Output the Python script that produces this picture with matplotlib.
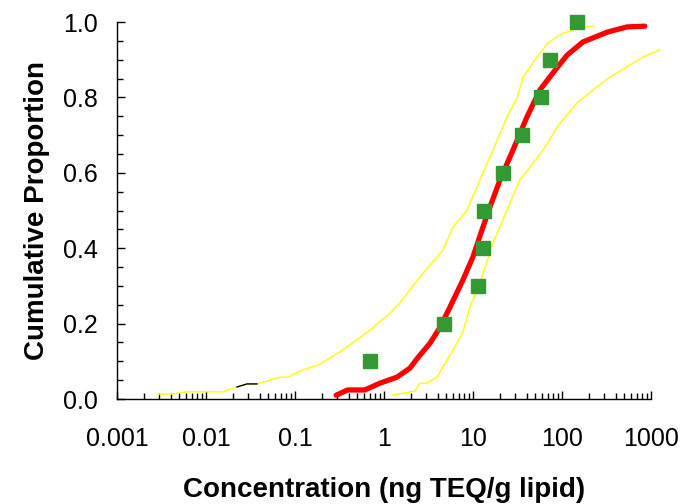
import numpy as np
import matplotlib
matplotlib.use('Agg')
import matplotlib.pyplot as plt
import matplotlib.ticker as ticker

plt.rcParams['font.family'] = ['Liberation Sans', 'DejaVu Sans']

# observed data (green squares)
obs_conc = [0.7, 4.7, 11.4, 12.9, 13.2, 21.7, 35.5, 58.1, 73.3, 147]
obs_prop = [0.1, 0.2, 0.3, 0.4, 0.5, 0.6, 0.7, 0.8, 0.9, 1.0]

# fitted distribution (red)
fit_conc = [0.29, 0.39, 0.61, 0.90, 1.40, 1.96, 2.41, 3.29, 4.26, 5.52, 7.72,
            10.0, 12.6, 15.5, 20.1, 28.1, 40.4, 56.6, 79.2, 114, 172, 321,
            537, 853]
fit_prop = [0.010, 0.024, 0.024, 0.042, 0.058, 0.082, 0.110, 0.148, 0.190,
            0.244, 0.316, 0.377, 0.448, 0.509, 0.581, 0.660, 0.748, 0.820,
            0.865, 0.912, 0.947, 0.973, 0.987, 0.989]

# upper confidence bound (left yellow)
upper_conc = [0.0029, 0.00415, 0.0061, 0.0155, 0.0223, 0.0289, 0.0374,
              0.0678, 0.083, 0.114, 0.191, 0.32, 0.384, 0.70, 1.17, 1.51,
              2.54, 4.6, 5.96, 8.57, 11.1, 14.4, 16.8, 24.1, 31.2, 36.5,
              52.4, 69.6, 95, 147, 223]
upper_prop = [0.013, 0.013, 0.019, 0.019, 0.032, 0.040, 0.040, 0.058, 0.058,
              0.074, 0.093, 0.125, 0.138, 0.183, 0.228, 0.255, 0.324, 0.395,
              0.456, 0.501, 0.562, 0.626, 0.660, 0.748, 0.798, 0.854, 0.907,
              0.944, 0.966, 0.984, 0.989]

# lower confidence bound (right yellow)
lower_conc = [1.26, 2.23, 2.54, 3.04, 3.94, 5.96, 7.72, 9.25, 12.0, 16.8,
              24.1, 33.7, 61.2, 95, 147, 223, 346, 537, 813, 1259]
lower_prop = [0.011, 0.021, 0.042, 0.042, 0.058, 0.130, 0.178, 0.244, 0.308,
              0.414, 0.501, 0.581, 0.660, 0.732, 0.785, 0.820, 0.854, 0.881,
              0.907, 0.926]

x_ticks = [0.001, 0.01, 0.1, 1, 10, 100, 1000]
x_tick_labels = ['0.001', '0.01', '0.1', '1', '10', '100', '1000']

fig = plt.figure(figsize=(6.83, 5.04), dpi=100)
ax = fig.add_axes([0.1713, 0.2083, 0.9531 - 0.1713, 0.9563 - 0.2083])

ax.plot(upper_conc, upper_prop, color='#ffff00', lw=1.0, clip_on=False)
ax.plot(upper_conc[4:7], upper_prop[4:7], color='black', lw=1.0, clip_on=False)
ax.plot(lower_conc, lower_prop, color='#ffff00', lw=1.0, clip_on=False)
ax.plot(fit_conc, fit_prop, color='#ff0000', lw=3.8, solid_capstyle='round',
        solid_joinstyle='round', clip_on=False)
ax.plot(obs_conc, obs_prop, 's', color='#339933', ms=10.5, mec='#339933',
        clip_on=False, zorder=5)

ax.set_xscale('log')
ax.set_xlim(0.001, 1000)
ax.set_ylim(0, 1.0)
minors = [d * m for d in x_ticks[:-1] for m in range(2, 10)]
ax.xaxis.set_major_locator(ticker.FixedLocator(x_ticks))
ax.xaxis.set_minor_locator(ticker.FixedLocator(minors))
ax.set_xticklabels(x_tick_labels)
ax.xaxis.set_minor_formatter(ticker.NullFormatter())
ax.yaxis.set_major_locator(ticker.MultipleLocator(0.2))
ax.yaxis.set_minor_locator(ticker.MultipleLocator(0.05))
ax.yaxis.set_major_formatter(ticker.FormatStrFormatter('%.1f'))

ax.tick_params(which='major', direction='in', length=6, width=1, labelsize=18)
ax.tick_params(which='minor', direction='in', length=4, width=1)
ax.tick_params(axis='x', pad=20)
ax.tick_params(axis='y', pad=14)

for side in ['top', 'right']:
    ax.spines[side].set_visible(False)
for side in ['left', 'bottom']:
    ax.spines[side].set_linewidth(1)

ax.set_xlabel('Concentration (ng TEQ/g lipid)', fontsize=20, fontweight='bold',
              labelpad=19)
ax.set_ylabel('Cumulative Proportion', fontsize=20, fontweight='bold',
              labelpad=9)

fig.savefig('out.png', dpi=100)
plt.close('all')
